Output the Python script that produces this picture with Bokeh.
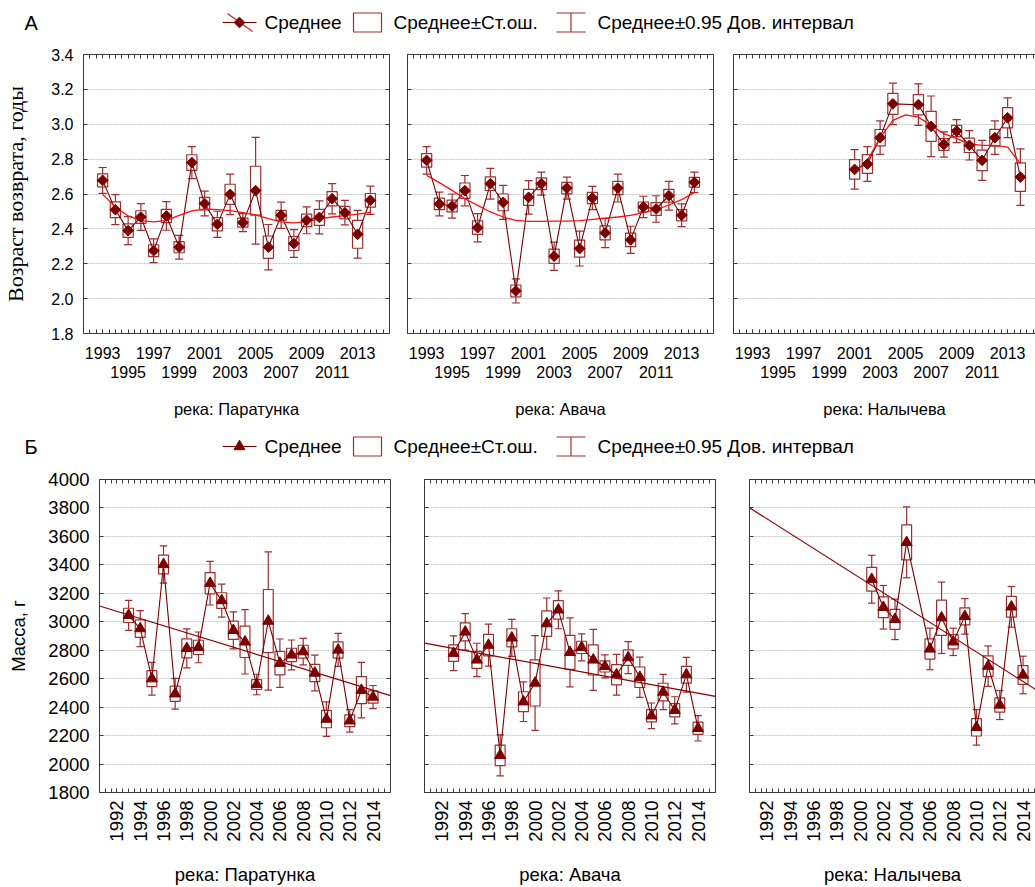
import numpy as np
from bokeh.plotting import figure
from bokeh.layouts import column, row
from bokeh.models import Range1d, FixedTicker, LinearAxis, PrintfTickFormatter, Grid, ColumnDataSource
from bokeh.core.properties import value
from bokeh.embed import file_html
from bokeh.resources import INLINE

# ------------------------------------------------------------------ data
RIVERS = ["Паратунка", "Авача", "Налычева"]
CAPTIONS = ["река: " + r for r in RIVERS]

years_par = list(range(1993, 2015))
years_ava = list(range(1993, 2015))
years_nal = [2001, 2002, 2003, 2004, 2006, 2007, 2008, 2009, 2010, 2011, 2012, 2013, 2014]

# return age, years: mean, standard error, 0.95 confidence half-width
age_par_mean = [2.678, 2.51, 2.39, 2.468, 2.275, 2.474, 2.295, 2.78, 2.545, 2.426, 2.598,
                2.436, 2.619, 2.295, 2.478, 2.316, 2.449, 2.466, 2.573, 2.493, 2.369, 2.564]
age_par_se = [0.037, 0.045, 0.039, 0.036, 0.034, 0.038, 0.032, 0.045, 0.036, 0.038, 0.058,
              0.026, 0.14, 0.064, 0.028, 0.04, 0.036, 0.046, 0.041, 0.036, 0.08, 0.039]
age_par_ci = [0.074, 0.086, 0.08, 0.077, 0.068, 0.082, 0.068, 0.092, 0.071, 0.075, 0.116,
              0.052, 0.306, 0.13, 0.075, 0.08, 0.077, 0.095, 0.087, 0.07, 0.137, 0.081]

age_ava_mean = [2.793, 2.543, 2.531, 2.619, 2.407, 2.659, 2.552, 2.044, 2.581, 2.659, 2.243,
                2.634, 2.287, 2.577, 2.377, 2.634, 2.337, 2.526, 2.514, 2.59, 2.478, 2.667]
age_ava_se = [0.039, 0.033, 0.034, 0.044, 0.039, 0.039, 0.048, 0.034, 0.046, 0.034, 0.041,
              0.033, 0.049, 0.032, 0.04, 0.038, 0.039, 0.028, 0.037, 0.037, 0.032, 0.028]
age_ava_ci = [0.079, 0.068, 0.069, 0.087, 0.081, 0.088, 0.098, 0.069, 0.096, 0.066, 0.081,
              0.063, 0.1, 0.067, 0.084, 0.08, 0.078, 0.061, 0.076, 0.082, 0.065, 0.059]

age_nal_mean = [2.741, 2.772, 2.923, 3.117, 3.112, 2.988, 2.884, 2.961, 2.879, 2.793, 2.923, 3.037, 2.697]
age_nal_se = [0.056, 0.054, 0.047, 0.06, 0.058, 0.086, 0.034, 0.032, 0.041, 0.059, 0.048, 0.058, 0.082]
age_nal_ci = [0.113, 0.1, 0.096, 0.119, 0.119, 0.174, 0.072, 0.066, 0.084, 0.115, 0.096, 0.114, 0.162]

# smoothed age curves
smooth_par_years = list(range(1993, 2015))
smooth_par = [2.598, 2.526, 2.474, 2.447, 2.44, 2.449, 2.478, 2.503, 2.514, 2.51, 2.505,
              2.493, 2.48, 2.459, 2.44, 2.434, 2.442, 2.457, 2.468, 2.476, 2.484, 2.495]
smooth_ava_years = list(range(1993, 2015))
smooth_ava = [2.707, 2.665, 2.621, 2.573, 2.535, 2.497, 2.468, 2.449, 2.443, 2.443, 2.445,
              2.445, 2.447, 2.455, 2.461, 2.468, 2.478, 2.493, 2.51, 2.537, 2.568, 2.608]
smooth_nal_years = list(range(2001, 2015))
smooth_nal = [2.726, 2.793, 2.923, 3.022, 3.054, 3.041, 2.993, 2.946, 2.917, 2.888, 2.879,
              2.879, 2.869, 2.774]

# body mass, g: mean, standard error, 0.95 confidence half-width
mass_par_mean = [3045, 2952, 2600, 3403, 2494, 2813, 2820, 3271, 3149, 2940, 2859,
                 2559, 3005, 2709, 2767, 2790, 2640, 2316, 2802, 2304, 2519, 2471]
mass_par_se = [50, 62, 56, 66, 53, 67, 50, 75, 55, 64, 110, 35, 222, 82, 47, 45, 60, 61, 57, 41, 95, 43]
mass_par_ci = [105, 127, 115, 131, 108, 137, 108, 153, 116, 130, 226, 72, 486, 170, 105, 93, 125, 121, 116, 79, 195, 81]

mass_ava_mean = [2779, 2929, 2732, 2836, 2061, 2887, 2438, 2570, 2987, 3084, 2785,
                 2820, 2732, 2686, 2628, 2748, 2610, 2339, 2506, 2378, 2628, 2251]
mass_ava_se = [58, 63, 60, 76, 72, 64, 70, 162, 89, 65, 119, 43, 106, 39, 71, 55, 72, 43, 62, 47, 59, 43]
mass_ava_ci = [122, 128, 117, 148, 144, 130, 139, 333, 180, 133, 242, 95, 214, 81, 143, 113, 141, 90, 124, 95, 122, 89]

mass_nal_mean = [3299, 3102, 3017, 3558, 2809, 3028, 2859, 3038, 2258, 2688, 2415, 3105, 2626]
mass_nal_se = [84, 73, 70, 123, 71, 124, 50, 60, 61, 73, 50, 73, 66]
mass_nal_ci = [168, 153, 142, 249, 146, 251, 96, 125, 125, 142, 102, 143, 132]

# axis ticks and labels
age_yticks = [1.8, 2.0, 2.2, 2.4, 2.6, 2.8, 3.0, 3.2, 3.4]
mass_yticks = [1800, 2000, 2200, 2400, 2600, 2800, 3000, 3200, 3400, 3600, 3800, 4000]
age_xlabels_row1 = [1993, 1997, 2001, 2005, 2009, 2013]
age_xlabels_row2 = [1995, 1999, 2003, 2007, 2011]
mass_xlabels = list(range(1992, 2015, 2))

LEGEND_TEXTS = ["Среднее", "Среднее±Ст.ош.", "Среднее±0.95 Дов. интервал"]
AGE_TITLE = "Возраст возврата, годы"
MASS_TITLE = "Масса, г"

# ------------------------------------------------------------------ style
SANS = "Liberation Sans"
SERIF = "Liberation Serif"
FRAME = "#3a3a3a"
DARK = "#7a0000"
BOXC = "#9c2f2f"
SMOOTH = "#ff1010"
TREND = "#8b0000"
GRIDC = "#c6c6c6"


def half_steps(a, b):
    return [float(v) for v in np.arange(a, b + 0.01, 0.5)]


def label_axis(ticker, *, size="16px", fmt="%d", standoff=8, tick_in=4, line=True,
               orientation=None):
    """Axis with tick labels; ticks point into the frame."""
    kw = dict(ticker=ticker, formatter=PrintfTickFormatter(format=fmt),
              axis_line_color=FRAME if line else None, axis_line_width=1,
              major_tick_line_color=FRAME if tick_in else None, major_tick_in=tick_in, major_tick_out=0,
              minor_tick_line_color=FRAME if tick_in else None, minor_tick_in=tick_in, minor_tick_out=0,
              major_label_text_font=SANS, major_label_text_color="#000000",
              major_label_text_font_size=size, major_label_standoff=standoff,
              axis_label_text_font=SANS, axis_label_text_font_style="normal",
              axis_label_text_color="#000000")
    if orientation is not None:
        kw["major_label_orientation"] = orientation
    return LinearAxis(**kw)


def tick_only_axis(positions):
    """Frame side with inward ticks and no labels (ticks given as minor ticks only)."""
    return LinearAxis(ticker=FixedTicker(ticks=[], minor_ticks=positions),
                      axis_line_color=FRAME, axis_line_width=1,
                      major_tick_line_color=None, major_tick_in=0, major_tick_out=0,
                      minor_tick_line_color=FRAME, minor_tick_in=4, minor_tick_out=0,
                      major_label_standoff=0)


AGE_SPEC = dict(x0=1991.5, span=24.0, ref_w=306, y0=1.8, y1=3.4, height=390,
                top=12, bottom=99, box=0.8, cap=0.64, yticks=age_yticks, fmt="%.1f",
                font="16px")
MASS_SPEC = dict(x0=1990.5, span=25.0, ref_w=291, y0=1800, y1=4000, height=421,
                 top=13, bottom=91, box=0.85, cap=0.64, yticks=mass_yticks, fmt="%d",
                 font="18.5px")


def make_panel(spec, kind, years, mean, se, ci, *, left, frame_w, right, caption,
               y_title=None, smooth=None, trend=False, right_axis=True):
    x_end = spec["x0"] + spec["span"] * frame_w / spec["ref_w"]
    p = figure(width=left + frame_w + right, height=spec["height"],
               x_range=Range1d(spec["x0"], x_end), y_range=Range1d(spec["y0"], spec["y1"]),
               output_backend="svg", toolbar_location=None,
               x_axis_location=None, y_axis_location=None,
               min_border_left=left, min_border_right=right,
               min_border_top=spec["top"], min_border_bottom=spec["bottom"],
               outline_line_color=None, background_fill_color="white",
               border_fill_color="white")
    p.grid.visible = False

    half = half_steps(spec["x0"], x_end)

    if y_title is not None:
        la = label_axis(FixedTicker(ticks=spec["yticks"]), size=spec["font"], fmt=spec["fmt"],
                        standoff=10)
        la.axis_label = y_title
        if kind == "age":
            la.axis_label_text_font = SERIF
            la.axis_label_text_font_size = "22px"
            la.axis_label_standoff = 20
        else:
            la.axis_label_text_font_size = "18.5px"
            la.axis_label_standoff = 16
    else:
        la = tick_only_axis(spec["yticks"])
    p.add_layout(la, "left")
    if right_axis:
        p.add_layout(tick_only_axis(spec["yticks"]), "right")
    p.add_layout(tick_only_axis(half), "above")

    if kind == "age":
        b1 = label_axis(FixedTicker(ticks=age_xlabels_row1, minor_ticks=half),
                        size=spec["font"], standoff=13)
        p.add_layout(b1, "below")
        b2 = label_axis(FixedTicker(ticks=age_xlabels_row2), size=spec["font"],
                        standoff=4, tick_in=0, line=False)
        b2.axis_label = caption
        b2.axis_label_text_font_size = "16.5px"
        b2.axis_label_standoff = 19
        p.add_layout(b2, "below")
    else:
        b1 = label_axis(FixedTicker(ticks=mass_xlabels, minor_ticks=half),
                        size=spec["font"], standoff=8, orientation=np.pi / 2)
        b1.axis_label = caption
        b1.axis_label_text_font_size = "18.5px"
        b1.axis_label_standoff = 19
        p.add_layout(b1, "below")

    p.add_layout(Grid(dimension=1, ticker=FixedTicker(ticks=spec["yticks"][1:-1]),
                      grid_line_color=GRIDC, grid_line_dash="2 1", grid_line_width=1))

    x = np.array(years, dtype=float)
    m = np.array(mean, dtype=float)
    s = np.array(se, dtype=float)
    c = np.array(ci, dtype=float)
    src = ColumnDataSource(dict(x=x, m=m, se_lo=m - s, se_hi=m + s, ci_lo=m - c, ci_hi=m + c,
                                bl=x - spec["box"] / 2, br=x + spec["box"] / 2,
                                cl=x - spec["cap"] / 2, cr=x + spec["cap"] / 2))

    p.quad(left="bl", right="br", bottom="se_lo", top="se_hi", source=src,
           fill_color="white", line_color=BOXC, line_width=1.2)
    for y0, y1 in (("se_hi", "ci_hi"), ("se_lo", "ci_lo")):
        p.segment(x0="x", y0=y0, x1="x", y1=y1, source=src, line_color=BOXC, line_width=1.2)
    for yc in ("ci_hi", "ci_lo"):
        p.segment(x0="cl", y0=yc, x1="cr", y1=yc, source=src, line_color=BOXC, line_width=1.2)

    p.line("x", "m", source=src, line_color=DARK, line_width=1.1)

    if smooth is not None:
        p.line(smooth[0], smooth[1], line_color=SMOOTH, line_width=1.3)
    if trend:
        k, b = np.polyfit(x, m, 1)
        xs = np.array([spec["x0"], x_end])
        p.line(xs, k * xs + b, line_color=TREND, line_width=1.2)

    if kind == "age":
        p.scatter("x", "m", source=src, marker="square", angle=np.pi / 4, size=7.6,
                  fill_color=DARK, line_color=DARK)
    else:
        p.scatter("x", "m", source=src, marker="triangle", size=11,
                  fill_color=DARK, line_color=DARK)
    return p


def make_header(letter, kind, height, mid):
    h = figure(width=1035, height=height, x_range=Range1d(0, 1035), y_range=Range1d(height, 0),
               output_backend="svg", toolbar_location=None,
               x_axis_location=None, y_axis_location=None, min_border=0,
               outline_line_color=None, border_fill_color="white")
    h.grid.visible = False
    h.text(x=[24], y=[mid], text=[letter], text_font=value(SANS), text_font_size="20px",
           text_baseline="middle", text_color="#000000")
    # key: mean line with marker
    h.segment(x0=[222], y0=[mid], x1=[256], y1=[mid], line_color=DARK, line_width=1.1)
    if kind == "age":
        h.segment(x0=[227], y0=[mid - 9], x1=[252], y1=[mid + 9], line_color=SMOOTH, line_width=1.2)
        h.scatter(x=[239], y=[mid], marker="square", angle=np.pi / 4, size=7.6,
                  fill_color=DARK, line_color=DARK)
    else:
        h.scatter(x=[239], y=[mid], marker="triangle", size=11, fill_color=DARK, line_color=DARK)
    # key: standard error box
    h.quad(left=[353], right=[381], top=[mid - 9.5], bottom=[mid + 9.5],
           fill_color="white", line_color=BOXC, line_width=1.2)
    # key: confidence whisker
    h.segment(x0=[570.5], y0=[mid - 9.5], x1=[570.5], y1=[mid + 9.5], line_color=BOXC, line_width=1.2)
    h.segment(x0=[556, 556], y0=[mid - 9.5, mid + 9.5], x1=[585, 585], y1=[mid - 9.5, mid + 9.5],
              line_color=BOXC, line_width=1.2)
    h.text(x=[264, 393, 597], y=[mid] * 3, text=LEGEND_TEXTS, text_font=value(SANS),
           text_font_size="19px", text_baseline="middle", text_color="#000000")
    return h


# ------------------------------------------------------------------ age row
a1 = make_panel(AGE_SPEC, "age", years_par, age_par_mean, age_par_se, age_par_ci,
                left=83, frame_w=306, right=9, caption=CAPTIONS[0], y_title=AGE_TITLE,
                smooth=(smooth_par_years, smooth_par))
a2 = make_panel(AGE_SPEC, "age", years_ava, age_ava_mean, age_ava_se, age_ava_ci,
                left=9, frame_w=306, right=11, caption=CAPTIONS[1],
                smooth=(smooth_ava_years, smooth_ava))
a3 = make_panel(AGE_SPEC, "age", years_nal, age_nal_mean, age_nal_se, age_nal_ci,
                left=9, frame_w=302, right=0, caption=CAPTIONS[2],
                smooth=(smooth_nal_years, smooth_nal), right_axis=False)

# ------------------------------------------------------------------ mass row
m1 = make_panel(MASS_SPEC, "mass", years_par, mass_par_mean, mass_par_se, mass_par_ci,
                left=99, frame_w=291, right=17, caption=CAPTIONS[0], y_title=MASS_TITLE, trend=True)
m2 = make_panel(MASS_SPEC, "mass", years_ava, mass_ava_mean, mass_ava_se, mass_ava_ci,
                left=17, frame_w=291, right=8, caption=CAPTIONS[1], trend=True)
m3 = make_panel(MASS_SPEC, "mass", years_nal, mass_nal_mean, mass_nal_se, mass_nal_ci,
                left=26, frame_w=286, right=0, caption=CAPTIONS[2], trend=True, right_axis=False)

head_a = make_header("А", "age", 42, 22)
head_b = make_header("Б", "mass", 34, 14)

page = column(head_a, row(a1, a2, a3), head_b, row(m1, m2, m3))

with open("out.html", "w") as f:
    f.write(file_html(page, INLINE))
